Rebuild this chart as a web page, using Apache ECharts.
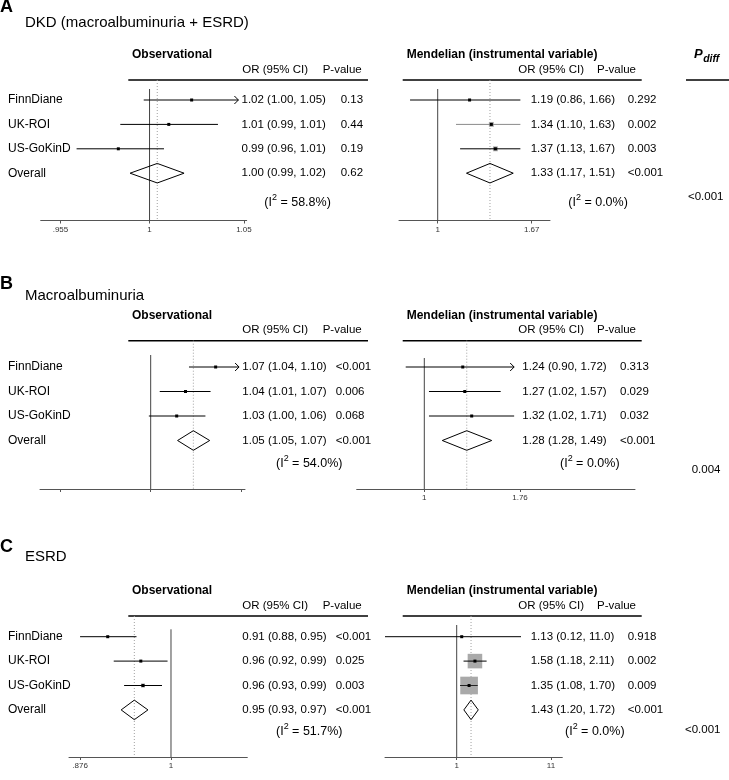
<!DOCTYPE html>
<html>
<head>
<meta charset="utf-8">
<script src="https://cdn.jsdelivr.net/npm/echarts@6.0.0/dist/echarts.min.js"></script>
<style>
html,body{margin:0;padding:0;background:#fff;}
#chart{width:729px;height:780px;}
</style>
</head>
<body>
<div id="chart"></div>
<script>
// ================= DATA (odds ratios) =================
const studyNames = ['FinnDiane', 'UK-ROI', 'US-GoKinD', 'Overall'];

// ---- A: DKD (macroalbuminuria + ESRD) ----
const aObsEst = [1.022, 1.010, 0.984];
const aObsLo  = [0.997, 0.985, 0.963];
const aObsHi  = [1.047, 1.036, 1.0075];
const aObsOverall = [1.004, 0.990, 1.018];          // est, lo, hi
const aObsWeight = [0, 0, 0];
const aObsArrow  = [1, 0, 0];
const aObsCI = ['1.02 (1.00, 1.05)', '1.01 (0.99, 1.01)', '0.99 (0.96, 1.01)', '1.00 (0.99, 1.02)'];
const aObsP  = ['0.13', '0.44', '0.19', '0.62'];
const aObsI2 = '58.8%';
const aObsTicks = [0.955, 1, 1.05];
const aObsTickLabels = ['.955', '1', '1.05'];

const aMrEst = [1.19, 1.34, 1.37];
const aMrLo  = [0.86, 1.105, 1.13];
const aMrHi  = [1.57, 1.57, 1.57];
const aMrOverall = [1.33, 1.17, 1.51];
const aMrWeight = [0, 6, 6];
const aMrArrow  = [0, 0, 0];
const aMrCI = ['1.19 (0.86, 1.66)', '1.34 (1.10, 1.63)', '1.37 (1.13, 1.67)', '1.33 (1.17, 1.51)'];
const aMrP  = ['0.292', '0.002', '0.003', '<0.001'];
const aMrI2 = '0.0%';
const aMrTicks = [1, 1.67];
const aMrTickLabels = ['1', '1.67'];

// ---- B: Macroalbuminuria ----
const bObsEst = [1.074, 1.039, 1.029];
const bObsLo  = [1.043, 1.010, 0.998];
const bObsHi  = [1.102, 1.068, 1.062];
const bObsOverall = [1.048, 1.030, 1.067];
const bObsWeight = [0, 0, 0];
const bObsArrow  = [1, 0, 0];
const bObsCI = ['1.07 (1.04, 1.10)', '1.04 (1.01, 1.07)', '1.03 (1.00, 1.06)', '1.05 (1.05, 1.07)'];
const bObsP  = ['<0.001', '0.006', '0.068', '<0.001'];
const bObsI2 = '54.0%';
const bObsTicks = [0.905, 1, 1.105];
const bObsTickLabels = [];

const bMrEst = [1.255, 1.27, 1.323];
const bMrLo  = [0.896, 1.028, 1.028];
const bMrHi  = [1.70, 1.57, 1.70];
const bMrOverall = [1.285, 1.112, 1.489];
const bMrWeight = [0, 0, 0];
const bMrArrow  = [1, 0, 0];
const bMrCI = ['1.24 (0.90, 1.72)', '1.27 (1.02, 1.57)', '1.32 (1.02, 1.71)', '1.28 (1.28, 1.49)'];
const bMrP  = ['0.313', '0.029', '0.032', '<0.001'];
const bMrI2 = '0.0%';
const bMrTicks = [1, 1.76];
const bMrTickLabels = ['1', '1.76'];

// ---- C: ESRD ----
const cObsEst = [0.912, 0.957, 0.960];
const cObsLo  = [0.876, 0.920, 0.934];
const cObsHi  = [0.951, 0.995, 0.987];
const cObsOverall = [0.948, 0.930, 0.967];
const cObsWeight = [0, 0, 4];
const cObsArrow  = [0, 0, 0];
const cObsCI = ['0.91 (0.88, 0.95)', '0.96 (0.92, 0.99)', '0.96 (0.93, 0.99)', '0.95 (0.93, 0.97)'];
const cObsP  = ['<0.001', '0.025', '0.003', '<0.001'];
const cObsI2 = '51.7%';
const cObsTicks = [0.876, 1];
const cObsTickLabels = ['.876', '1'];

const cMrEst = [1.136, 1.59, 1.37];
const cMrLo  = [0.1615, 1.19, 1.088];
const cMrHi  = [5.13, 2.14, 1.706];
const cMrOverall = [1.44, 1.20, 1.73];
const cMrWeight = [0, 53, 78];
const cMrArrow  = [0, 0, 0];
const cMrCI = ['1.13 (0.12, 11.0)', '1.58 (1.18, 2.11)', '1.35 (1.08, 1.70)', '1.43 (1.20, 1.72)'];
const cMrP  = ['0.918', '0.002', '0.009', '<0.001'];
const cMrI2 = '0.0%';
const cMrTicks = [1, 11];
const cMrTickLabels = ['1', '11'];

const pDiff = ['<0.001', '0.004', '<0.001'];

// ================= LAYOUT / STYLE =================
const FONT = '"Liberation Sans", Arial, Helvetica, sans-serif';
const LABEL_X = 8;
const DIAMOND_H = 0.4;   // in row units
const BOX_SCALE = 2;

const panelLayout = [
  {letter: 'A', title: 'DKD (macroalbuminuria + ESRD)', letterY: 7.5, titleY: 23.3, headY: 54.5, subY: 70, lineY: 80, rowY0: 100, step: 24.4, axisY: 220.5, i2Y: 203, pdX: 688, pdY: 197},
  {letter: 'B', title: 'Macroalbuminuria', letterY: 284, titleY: 296.3, headY: 315.5, subY: 330.3, lineY: 340.7, rowY0: 367, step: 24.5, axisY: 489, i2Y: 463.3, pdX: 691.7, pdY: 470},
  {letter: 'C', title: 'ESRD', letterY: 547.5, titleY: 557.3, headY: 590.7, subY: 606, lineY: 616, rowY0: 636.7, step: 24.4, axisY: 757, i2Y: 731.7, pdX: 685, pdY: 730}
];

const subplots = [
  {panel: 0, obs: true,  L: 40.7, R: 246.7, min: 0.9453, max: 1.0515, ciX: 241.5, pX: 340.7, refTopY: 89,  i2X: 264.3,
   est: aObsEst, lo: aObsLo, hi: aObsHi, ov: aObsOverall, w: aObsWeight, arrow: aObsArrow, ci: aObsCI, p: aObsP, i2: aObsI2, ticks: aObsTicks, tickLabels: aObsTickLabels, lineColors: ['#000', '#000', '#000']},
  {panel: 0, obs: false, L: 399, R: 550, min: 0.8097, max: 1.8453, ciX: 530.7, pX: 627.7, refTopY: 89, i2X: 568.3,
   est: aMrEst, lo: aMrLo, hi: aMrHi, ov: aMrOverall, w: aMrWeight, arrow: aMrArrow, ci: aMrCI, p: aMrP, i2: aMrI2, ticks: aMrTicks, tickLabels: aMrTickLabels, lineColors: ['#000', '#8a8a8a', '#000']},
  {panel: 1, obs: true,  L: 40, R: 245, min: 0.8855, max: 1.1092, ciX: 242.3, pX: 335.7, refTopY: 355, i2X: 276,
   est: bObsEst, lo: bObsLo, hi: bObsHi, ov: bObsOverall, w: bObsWeight, arrow: bObsArrow, ci: bObsCI, p: bObsP, i2: bObsI2, ticks: bObsTicks, tickLabels: bObsTickLabels, lineColors: ['#000', '#000', '#000']},
  {panel: 1, obs: false, L: 356.7, R: 635, min: 0.6708, max: 3.471, ciX: 522.3, pX: 620, refTopY: 358, i2X: 560,
   est: bMrEst, lo: bMrLo, hi: bMrHi, ov: bMrOverall, w: bMrWeight, arrow: bMrArrow, ci: bMrCI, p: bMrP, i2: bMrI2, ticks: bMrTicks, tickLabels: bMrTickLabels, lineColors: ['#000', '#000', '#000']},
  {panel: 2, obs: true,  L: 69, R: 247.3, min: 0.862, max: 1.1175, ciX: 242.3, pX: 335.7, refTopY: 629.3, i2X: 276,
   est: cObsEst, lo: cObsLo, hi: cObsHi, ov: cObsOverall, w: cObsWeight, arrow: cObsArrow, ci: cObsCI, p: cObsP, i2: cObsI2, ticks: cObsTicks, tickLabels: cObsTickLabels, lineColors: ['#000', '#000', '#000']},
  {panel: 2, obs: false, L: 385, R: 562.3, min: 0.1615, max: 14.66, ciX: 530.7, pX: 627.7, refTopY: 625, i2X: 565,
   est: cMrEst, lo: cMrLo, hi: cMrHi, ov: cMrOverall, w: cMrWeight, arrow: cMrArrow, ci: cMrCI, p: cMrP, i2: cMrI2, ticks: cMrTicks, tickLabels: cMrTickLabels, lineColors: ['#000', '#000', '#222']}
];

// ================= HELPERS =================
const mctx = document.createElement('canvas').getContext('2d');
function tw(t, size, weight, style) {
  mctx.font = (style || 'normal') + ' ' + (weight || 'normal') + ' ' + size + 'px ' + FONT;
  return mctx.measureText(t).width;
}
function txtEl(x, y, text, size, opts) {
  opts = opts || {};
  return {
    type: 'text', x: x, y: y, silent: true,
    style: {
      text: text, fill: opts.color || '#000', fontSize: size, fontFamily: FONT,
      fontWeight: opts.weight || 'normal', fontStyle: opts.style || 'normal',
      align: opts.align || 'left', verticalAlign: 'middle'
    }
  };
}
function lineEl(x1, y1, x2, y2, width, color) {
  return {type: 'line', silent: true, shape: {x1: x1, y1: y1, x2: x2, y2: y2}, style: {stroke: color || '#000', lineWidth: width || 1}};
}

// ================= BUILD OPTION =================
const grids = [], xAxes = [], yAxes = [], series = [], graphics = [];

subplots.forEach(function (sp, i) {
  const pl = panelLayout[sp.panel];
  const yMin = -(pl.rowY0 - pl.lineY) / pl.step;
  const yMax = (pl.axisY - pl.rowY0) / pl.step;
  const refTop = (sp.refTopY - pl.rowY0) / pl.step;

  grids.push({left: sp.L, width: sp.R - sp.L, top: pl.lineY, height: pl.axisY - pl.lineY, containLabel: false});
  const logTicks = sp.ticks.map(Math.log);
  xAxes.push({
    type: 'value', gridIndex: i, min: Math.log(sp.min), max: Math.log(sp.max),
    axisLine: {show: true, onZero: false, lineStyle: {color: '#555', width: 1}},
    axisTick: {show: true, inside: false, length: 3, customValues: logTicks, lineStyle: {color: '#555', width: 1}},
    axisLabel: {
      show: sp.tickLabels.length > 0, customValues: logTicks, fontSize: 8, color: '#333', fontFamily: FONT, margin: 5,
      formatter: function (v) {
        for (let k = 0; k < logTicks.length; k++) { if (Math.abs(logTicks[k] - v) < 1e-6) return sp.tickLabels[k] || ''; }
        return '';
      }
    },
    splitLine: {show: false}
  });
  yAxes.push({type: 'value', gridIndex: i, inverse: true, min: yMin, max: yMax, show: false});

  // reference line (OR = 1) and dotted line at pooled estimate
  series.push({
    type: 'custom', xAxisIndex: i, yAxisIndex: i, silent: true, z: 1, animation: false,
    data: [[Math.log(sp.ov[0]), 0]],
    encode: {x: 0, y: 1},
    renderItem: function (params, api) {
      const a = api.coord([0, refTop]), b = api.coord([0, yMax]);
      const c = api.coord([api.value(0), yMin]), d = api.coord([api.value(0), yMax]);
      return {type: 'group', children: [
        {type: 'line', shape: {x1: c[0], y1: c[1], x2: d[0], y2: d[1]}, style: {stroke: '#a0a0a0', lineWidth: 1, lineDash: [1, 2]}},
        {type: 'line', shape: {x1: a[0], y1: a[1], x2: b[0], y2: b[1]}, style: {stroke: '#444', lineWidth: 1}}
      ]};
    }
  });

  // study rows
  const rows = sp.est.map(function (e, r) {
    return [Math.log(e), r, Math.log(sp.lo[r]), Math.log(sp.hi[r]), sp.w[r], sp.arrow[r], 0];
  });
  rows.push([Math.log(sp.ov[0]), 3, Math.log(sp.ov[1]), Math.log(sp.ov[2]), 0, 0, 1]);

  series.push({
    type: 'custom', xAxisIndex: i, yAxisIndex: i, silent: true, z: 2, animation: false,
    data: rows, encode: {x: 0, y: 1},
    renderItem: function (params, api) {
      const r = api.value(1);
      const pE = api.coord([api.value(0), r]);
      const pL = api.coord([api.value(2), r]);
      const pH = api.coord([api.value(3), r]);
      const w = api.value(4), arrow = api.value(5), isOv = api.value(6);
      const y = pE[1];
      const ch = [];
      if (isOv) {
        const t = api.coord([api.value(0), r - DIAMOND_H]);
        const b = api.coord([api.value(0), r + DIAMOND_H]);
        ch.push({type: 'polygon', shape: {points: [[pL[0], y], [pE[0], t[1]], [pH[0], y], [pE[0], b[1]]]},
          style: {fill: 'none', stroke: '#000', lineWidth: 1}});
      } else {
        if (w > 0) {
          const s = BOX_SCALE * Math.sqrt(w);
          ch.push({type: 'rect', shape: {x: pE[0] - s / 2, y: y - s / 2, width: s, height: s}, style: {fill: '#a9a9a9'}});
        }
        ch.push({type: 'line', shape: {x1: pL[0], y1: y, x2: pH[0], y2: y}, style: {stroke: sp.lineColors[r], lineWidth: 1}});
        if (arrow) {
          ch.push({type: 'polyline', shape: {points: [[pH[0] - 4, y - 4], [pH[0], y], [pH[0] - 4, y + 4]]},
            style: {stroke: '#000', fill: 'none', lineWidth: 1}});
        }
        ch.push({type: 'rect', shape: {x: pE[0] - 1.5, y: y - 1.5, width: 3, height: 3}, style: {fill: '#000'}});
      }
      if (sp.obs) ch.push(txtEl(LABEL_X, y, studyNames[r], 12));
      ch.push(txtEl(sp.ciX, y, sp.ci[r], 11.5));
      ch.push(txtEl(sp.pX, y, sp.p[r], 11.5));
      return {type: 'group', children: ch};
    }
  });

  // heterogeneity text with superscript
  const f = 12.5, fs = 9;
  const w1 = tw('(I', f), w2 = tw('2', fs);
  graphics.push(txtEl(sp.i2X, pl.i2Y, '(I', f));
  graphics.push(txtEl(sp.i2X + w1, pl.i2Y - 5, '2', fs));
  graphics.push(txtEl(sp.i2X + w1 + w2, pl.i2Y, ' = ' + sp.i2 + ')', f));

  // column headers
  if (sp.obs) {
    graphics.push(txtEl(132, pl.headY, 'Observational', 12, {weight: 'bold'}));
    graphics.push(txtEl(242.3, pl.subY, 'OR (95% CI)', 11.5));
    graphics.push(txtEl(322.7, pl.subY, 'P-value', 11.5));
    graphics.push(lineEl(128.3, pl.lineY, 368, pl.lineY, 1.5));
  } else {
    graphics.push(txtEl(406.7, pl.headY, 'Mendelian (instrumental variable)', 12, {weight: 'bold'}));
    graphics.push(txtEl(518.3, pl.subY, 'OR (95% CI)', 11.5));
    graphics.push(txtEl(597, pl.subY, 'P-value', 11.5));
    graphics.push(lineEl(402.7, pl.lineY, 641.7, pl.lineY, 1.5));
  }
});

panelLayout.forEach(function (pl, k) {
  graphics.push(txtEl(0, pl.letterY, pl.letter, 18, {weight: 'bold'}));
  graphics.push(txtEl(25, pl.titleY, pl.title, 15));
  graphics.push(txtEl(pl.pdX, pl.pdY, pDiff[k], 11.5));
});

// P_diff header (panel A only)
const pW = tw('P', 13, 'bold', 'italic');
graphics.push(txtEl(694, 54.5, 'P', 13, {weight: 'bold', style: 'italic'}));
graphics.push(txtEl(694 + pW + 0.5, 59.5, 'diff', 10.5, {weight: 'bold', style: 'italic'}));
graphics.push(lineEl(686, 80, 729, 80, 1.5));

const chart = echarts.init(document.getElementById('chart'), null, {renderer: 'canvas', width: 729, height: 780});
chart.setOption({
  animation: false,
  backgroundColor: '#fff',
  grid: grids,
  xAxis: xAxes,
  yAxis: yAxes,
  series: series,
  graphic: {elements: graphics}
});
</script>
</body>
</html>
